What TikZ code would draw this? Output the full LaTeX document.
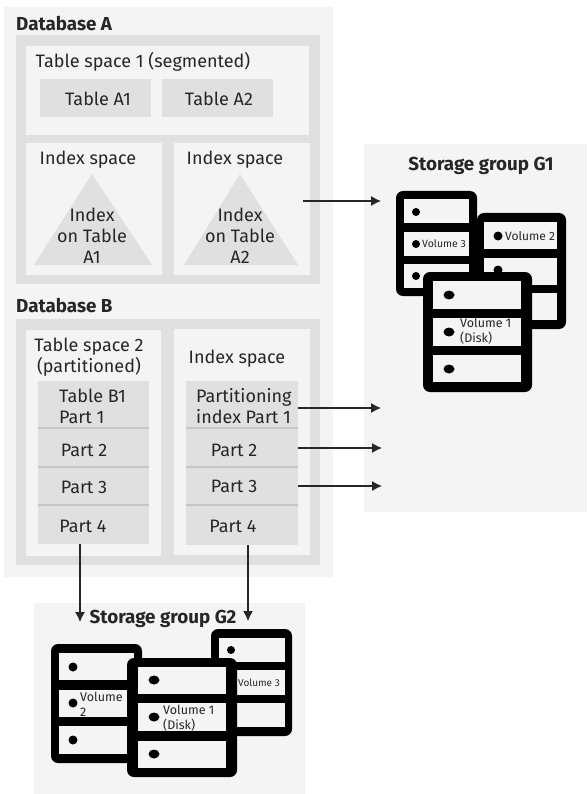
\documentclass[tikz,border=0pt]{standalone}
\usepackage{fontspec}
\setmainfont{Fira Sans}
\usetikzlibrary{arrows.meta}
\definecolor{lite}{HTML}{F4F4F4}
\definecolor{mid}{HTML}{E0E0E0}
\definecolor{sep}{HTML}{C6C6C6}
\definecolor{ink}{HTML}{262626}
\newcommand{\bx}[6]{%
  \pgfmathsetmacro{\bxw}{#4-#2}\pgfmathsetmacro{\bxh}{#5-#3}%
  \pgfmathsetmacro{\bxx}{(#2+#4)/2}\pgfmathsetmacro{\bxy}{(#3+#5)/2}%
  \node[panel,#6,minimum width=\bxw pt,minimum height=\bxh pt] (#1) at (\bxx,\bxy) {};}
\newcommand{\rw}[4]{\fill[lite] (#1,#2) rectangle (#3,#4);}
\newcommand{\frm}[4]{\fill[black,rounded corners=7pt] (#1,#2) rectangle (#3,#4);}
\tikzset{
  panel/.style={inner sep=0pt,outer sep=0pt,draw=none},
  lt/.style={fill=lite},
  md/.style={fill=mid},
  lab/.style={inner sep=0pt,text=ink,align=center,font=\fontsize{18}{21}\selectfont},
  labl/.style={lab,align=left,anchor=west},
  head/.style={inner sep=0pt,text=ink,font=\fontsize{18.8}{20}\selectfont\bfseries},
  vol/.style={inner sep=0pt,text=ink,align=left,anchor=west,font=\fontsize{12.5}{15}\selectfont},
  flow/.style={line width=1.2pt,draw=ink,-{Latex[length=10pt,width=10pt]}},
  seam/.style={sep,line width=1.4pt},
}
\begin{document}
\begin{tikzpicture}[x=1pt,y=-1pt]
\useasboundingbox (0,0) rectangle (587,794);
% group panels
\bx{dbs}{4}{7}{333}{577}{lt}
\bx{gone}{364}{144}{587}{512}{lt}
\bx{gtwo}{34}{603}{305}{794}{lt}
% Database A
\bx{dba}{16}{35}{320}{284}{md}
\bx{tsone}{26}{46}{309}{135}{lt}
\bx{ta}{40}{79}{151}{117}{md}
\bx{tb}{162}{79}{273}{117}{md}
\bx{isa}{26}{143}{162}{275}{lt}
\bx{isb}{174}{143}{310}{275}{lt}
\fill[mid] (92,174) -- (152,265) -- (34,265) -- cycle;
\fill[mid] (240,174) -- (298,265) -- (184,265) -- cycle;
% Database B
\bx{dbb}{16}{319}{320}{565}{md}
\bx{tstwo}{26}{330}{161}{556}{lt}
\bx{isc}{174}{329}{310}{555}{lt}
\bx{tp}{38}{381}{149}{428}{md}
\bx{tq}{38}{428}{149}{467}{md}
\bx{tr}{38}{467}{149}{505}{md}
\bx{ts}{38}{505}{149}{544}{md}
\bx{ip}{186}{381}{298}{428}{md}
\bx{iq}{186}{428}{298}{467}{md}
\bx{ir}{186}{467}{298}{505}{md}
\bx{is}{186}{505}{298}{545}{md}
\draw[seam] (tp.south west) -- (tp.south east);
\draw[seam] (tq.south west) -- (tq.south east);
\draw[seam] (tr.south west) -- (tr.south east);
\draw[seam] (ip.south west) -- (ip.south east);
\draw[seam] (iq.south west) -- (iq.south east);
\draw[seam] (ir.south west) -- (ir.south east);
% Storage group G1 volumes
\frm{477}{213}{566}{329}
\rw{484}{222}{557}{249}\rw{484}{258}{557}{285}\rw{484}{293}{557}{320}
\fill[black] (498,236) circle (4.5) (498,270) circle (4.5);
\frm{396}{191}{477}{296}
\rw{404}{199}{469}{223}\rw{404}{232}{469}{256}\rw{404}{264}{469}{288}
\fill[black] (416,212) circle (4) (416,244) circle (4) (416,276) circle (4);
\frm{423}{272}{532}{392}
\rw{433}{281}{521}{309}\rw{433}{318}{521}{346}\rw{433}{355}{521}{382}
\fill[black] (449,295) ellipse (5.5 and 4.5) (449,332) ellipse (5.5 and 4.5) (449,369) ellipse (5.5 and 4.5);
% Storage group G2 volumes
\frm{211}{629}{292}{736}
\rw{219}{638}{285}{662}\rw{219}{670}{285}{695}\rw{219}{703}{285}{727}
\fill[black] (231,650) circle (4);
\frm{51}{644}{142}{763}
\rw{59}{653}{134}{680}\rw{59}{690}{134}{717}\rw{59}{726}{134}{754}
\fill[black] (73,667) circle (4.5) (73,703) circle (4.5) (73,740) circle (4.5);
\frm{127}{658}{237}{777}
\rw{138}{667}{226}{694}\rw{138}{703}{226}{731}\rw{138}{741}{226}{768}
\fill[black] (154,680) ellipse (5.5 and 4.5) (154,717) ellipse (5.5 and 4.5) (154,754) ellipse (5.5 and 4.5);
% texts
\node[head,anchor=west] (hda) at (16,24) {Database A};
\node[head,anchor=west] (hdb) at (16,306) {Database B};
\node[head] (hg1) at (481,166) {Storage group G1};
\node[head] (hg2) at (163,619) {Storage group G2};
\node[lab] (t1) at (143,62) {Table space 1 (segmented)};
\node[lab] (t2) at (98,99) {Table A1};
\node[lab] (t3) at (219,99) {Table A2};
\node[lab] (t4) at (88,160) {Index space};
\node[lab] (t5) at (235,160) {Index space};
\node[lab] (t6) at (92,236) {Index\\on Table\\A1};
\node[lab] (t7) at (240,236) {Index\\on Table\\A2};
\node[lab] (t8) at (89,357) {Table space 2\\(partitioned)};
\node[lab] (t9) at (237,359) {Index space};
\node[labl] (t10) at (59,406) {Table B1\\Part 1};
\node[lab] (t11) at (84,450) {Part 2};
\node[lab] (t12) at (84,487) {Part 3};
\node[lab] (t13) at (83,526) {Part 4};
\node[labl] (t14) at (196,406) {Partitioning\\index Part 1};
\node[lab] (t15) at (234,450) {Part 2};
\node[lab] (t16) at (234,486) {Part 3};
\node[lab] (t17) at (233,526) {Part 4};
\node[vol,font=\fontsize{10.5}{13}\selectfont] (v1) at (422,244) {Volume 3};
\node[vol,font=\fontsize{12}{15}\selectfont] (v2) at (505,236) {Volume 2};
\node[vol] (v3) at (460,331) {Volume 1\\(Disk)};
\node[vol] (v4) at (80,704) {Volume\\2};
\node[vol] (v5) at (163,718) {Volume 1\\(Disk)};
\node[vol,font=\fontsize{10}{12}\selectfont] (v6) at (238,683) {Volume 3};
% arrows
\coordinate (a1s) at (303,201); \coordinate (a1e) at (381,201);
\coordinate (a2e) at (381,408); \coordinate (a3e) at (382,448); \coordinate (a4e) at (382,486);
\coordinate (a5e) at (80,622); \coordinate (a6e) at (248,621);
\draw[flow] (a1s) -- (a1e);
\draw[flow] (ip.east |- a2e) -- (a2e);
\draw[flow] (iq.east |- a3e) -- (a3e);
\draw[flow] (ir.east |- a4e) -- (a4e);
\draw[flow] (ts.south -| a5e) -- (a5e);
\draw[flow] (is.south -| a6e) -- (a6e);
\end{tikzpicture}
\end{document}
